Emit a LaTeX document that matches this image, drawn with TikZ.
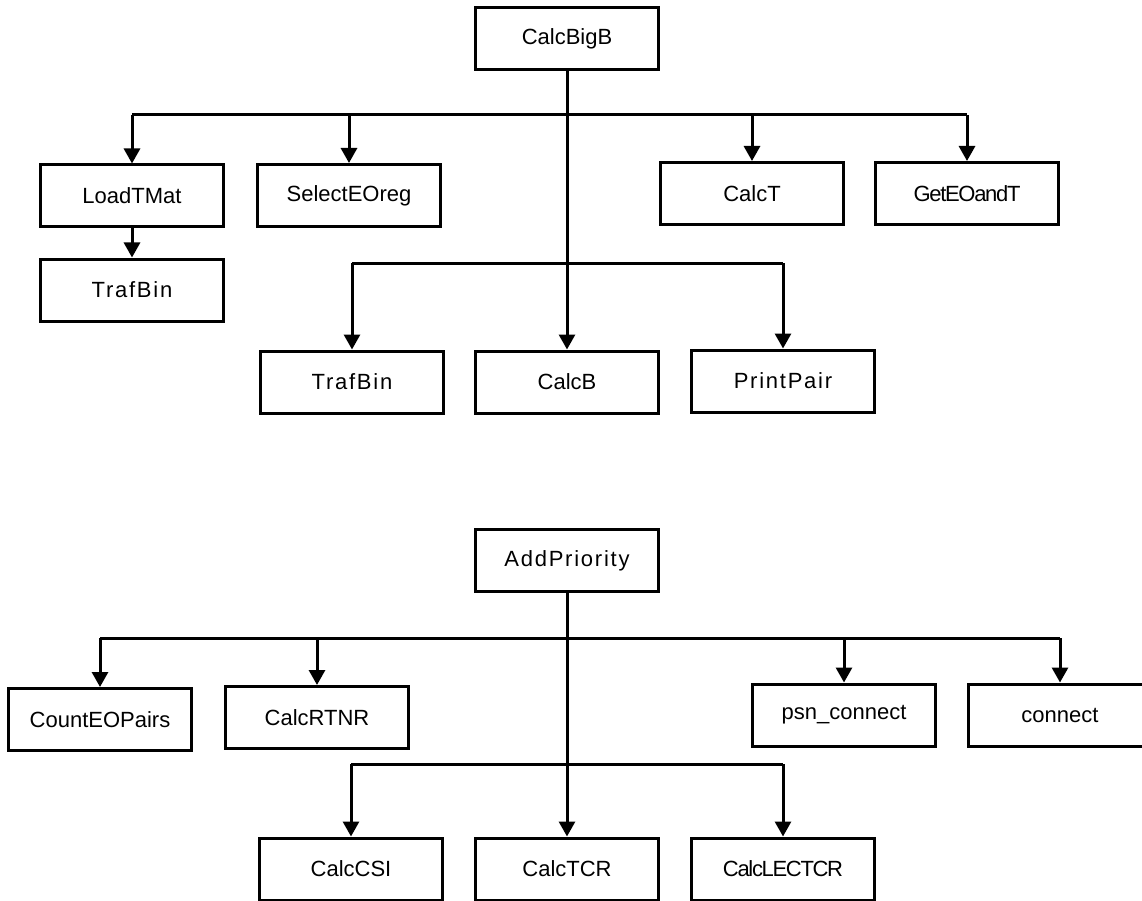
\documentclass[tikz,border=0pt]{standalone}
\usepackage{fontspec}
\setmainfont{Liberation Sans}
\usetikzlibrary{arrows.meta}
\newcommand\lspaced[1]{{\addfontfeature{LetterSpace=8}#1}}
\newcommand\lcondensed[1]{{\addfontfeature{LetterSpace=-6}#1}}
\begin{document}
\begin{tikzpicture}[x=1pt,y=-1pt,
  box/.style={draw, line width=3pt, minimum width=183pt, minimum height=62pt,
    inner sep=0pt, font=\fontsize{22}{26}\selectfont},
  conn/.style={line width=3pt, line cap=butt},
  arr/.style={conn, -{Triangle[width=16pt,length=15pt]}}]
\clip (0,0) rectangle (1142,901);
\fill[white] (0,0) rectangle (1142,901);

% ---- top tree ----
\node[box] (calcbigb) at (567,39) {CalcBigB};
\node[box] (loadtmat) at (132,196) {LoadTMat};
\node[box] (trafbina) at (132,290) {\lspaced{TrafBin}};
\node[box] (selecteoreg) at (349,195.5) {SelectEOreg};
\node[box] (calct) at (752,193.5) {CalcT};
\node[box] (geteoandt) at (967,193.5) {\lcondensed{GetEOandT}};
\node[box] (trafbinb) at (352,382) {\lspaced{TrafBin}};
\node[box] (calcb) at (567,382) {CalcB};
\node[box] (printpair) at (783,381) {\lspaced{PrintPair}};

\coordinate (busa) at (0,115);
\coordinate (busb) at (0,263);
\draw[conn] (loadtmat.north |- busa) -- (geteoandt.north |- busa);
\draw[conn] (trafbinb.north |- busb) -- (printpair.north |- busb);
\draw[arr] (calcbigb.south) -- (calcb.north);
\draw[arr] (loadtmat.north |- busa) -- (loadtmat.north);
\draw[arr] (selecteoreg.north |- busa) -- (selecteoreg.north);
\draw[arr] (calct.north |- busa) -- (calct.north);
\draw[arr] (geteoandt.north |- busa) -- (geteoandt.north);
\draw[arr] (loadtmat.south) -- (trafbina.north);
\draw[arr] (trafbinb.north |- busb) -- (trafbinb.north);
\draw[arr] (printpair.north |- busb) -- (printpair.north);

% ---- bottom tree ----
\node[box] (addpriority) at (567,560.5) {\lspaced{AddPriority}};
\node[box] (counteopairs) at (100,719.5) {CountEOPairs};
\node[box] (calcrtnr) at (317,717.5) {CalcRTNR};
\node[box] (psnconnect) at (844,715) {psn\_connect};
\node[box] (connect) at (1060,715) {connect};
\node[box] (calccsi) at (351,869) {CalcCSI};
\node[box] (calctcr) at (567,869) {CalcTCR};
\node[box] (calclectcr) at (783,869) {\lcondensed{CalcLECTCR}};

\coordinate (busc) at (0,638);
\coordinate (busd) at (0,764);
\draw[conn] (counteopairs.north |- busc) -- (connect.north |- busc);
\draw[conn] (calccsi.north |- busd) -- (calclectcr.north |- busd);
\draw[arr] (addpriority.south) -- (calctcr.north);
\draw[arr] (counteopairs.north |- busc) -- (counteopairs.north);
\draw[arr] (calcrtnr.north |- busc) -- (calcrtnr.north);
\draw[arr] (psnconnect.north |- busc) -- (psnconnect.north);
\draw[arr] (connect.north |- busc) -- (connect.north);
\draw[arr] (calccsi.north |- busd) -- (calccsi.north);
\draw[arr] (calclectcr.north |- busd) -- (calclectcr.north);
\end{tikzpicture}
\end{document}
